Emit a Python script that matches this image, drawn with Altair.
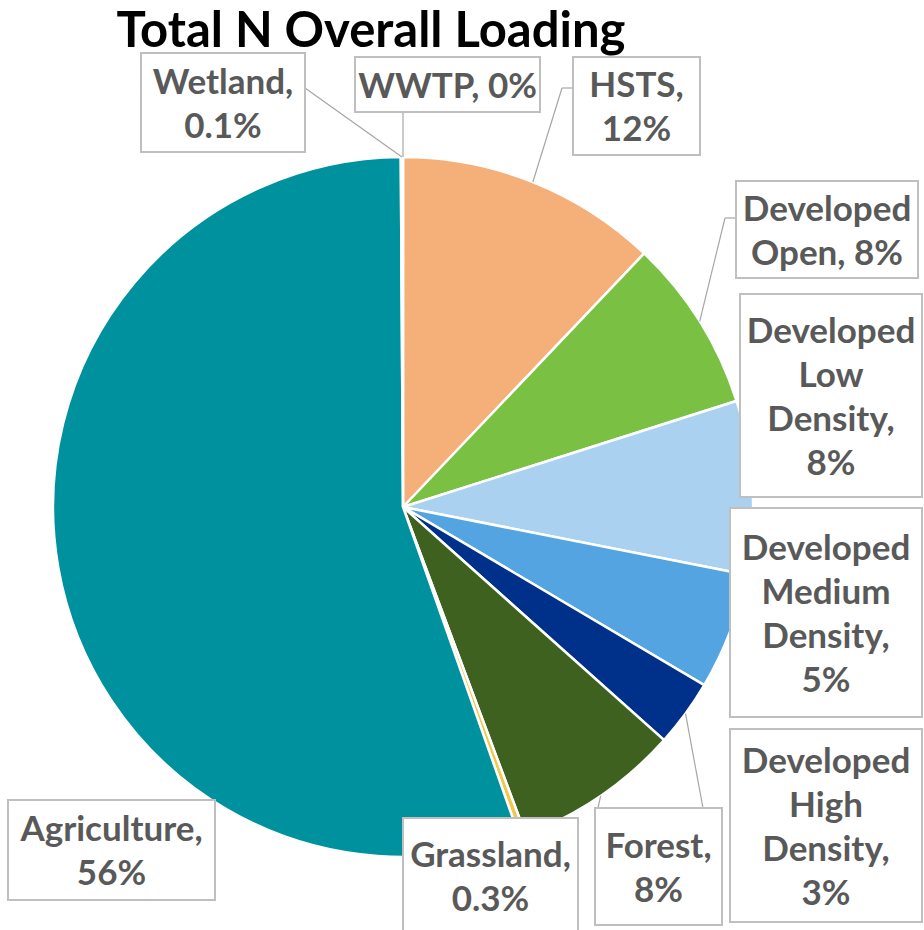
import math
import altair as alt
import pandas as pd

# ---------------- data ----------------
CATEGORIES = ["WWTP", "HSTS", "Developed Open", "Developed Low Density",
              "Developed Medium Density", "Developed High Density", "Forest",
              "Grassland", "Agriculture", "Wetland"]
VALUES = [0.0, 12.1, 8.0, 8.0, 5.4, 3.1, 7.7, 0.3, 55.3, 0.1]
LABELS = ["WWTP, 0%", "HSTS,\n12%", "Developed\nOpen, 8%", "Developed\nLow\nDensity,\n8%",
          "Developed\nMedium\nDensity,\n5%", "Developed\nHigh\nDensity,\n3%", "Forest,\n8%",
          "Grassland,\n0.3%", "Agriculture,\n56%", "Wetland,\n0.1%"]
COLORS = ["#A5A5A5", "#F5AF78", "#7AC143", "#AAD2F0", "#54A4E1", "#00318A",
          "#3E6120", "#F2C84B", "#00919E", "#4472C4"]
TITLE = "Total N Overall Loading"

# ---------------- layout ----------------
W, H = 924, 930
CX, CY, R = 403, 507, 350
LINE_H = 44
BOXES = {  # x0, y0, x1, y1
    "WWTP": (355, 57, 540, 112),
    "HSTS": (573, 57, 700, 155),
    "Developed Open": (736, 181, 918, 278),
    "Developed Low Density": (740, 294, 922, 497),
    "Developed Medium Density": (730, 508, 922, 717),
    "Developed High Density": (730, 729, 922, 922),
    "Forest": (595, 808, 722, 925),
    "Grassland": (403, 818, 578, 940),
    "Agriculture": (8, 800, 215, 900),
    "Wetland": (141, 53, 305, 152),
}
TEXT_CENTER_Y = {"Grassland": 876}
LEADER_PATHS = {  # points after the slice edge point
    "WWTP": [(403, 112)],
    "Wetland": [(305, 88)],
    "HSTS": [(562, 88), (573, 88)],
    "Developed Open": [(725, 218), (736, 218)],
    "Developed High Density": [(703, 808)],
    "Forest": [(598, 808)],
}

# ---------------- derived tables ----------------
total = sum(VALUES)
pie_df = pd.DataFrame({"category": CATEGORIES, "value": VALUES,
                       "idx": list(range(len(CATEGORIES)))})

rows = []
cum = 0.0
mids = {}
for c, v in zip(CATEGORIES, VALUES):
    a = (cum + v / 2) / total * 2 * math.pi
    mids[c] = (CX + R * math.sin(a), CY - R * math.cos(a))
    cum += v
for c, pts in LEADER_PATHS.items():
    p = mids[c]
    for q in pts:
        rows.append({"x": p[0], "y": p[1], "x2": q[0], "y2": q[1]})
        p = q
lead_df = pd.DataFrame(rows)

box_rows = []
for c, l in zip(CATEGORIES, LABELS):
    b = BOXES[c]
    n = l.count("\n") + 1
    cy = TEXT_CENTER_Y.get(c, (b[1] + b[3]) / 2)
    box_rows.append({"category": c, "x0": b[0], "y0": b[1], "x1": b[2], "y1": b[3],
                     "tx": (b[0] + b[2]) / 2, "ty": cy - (n - 1) * LINE_H / 2 + 2,
                     "label": l})
box_df = pd.DataFrame(box_rows)

xs = alt.Scale(domain=[0, W], range=[0, W])
ys = alt.Scale(domain=[0, H], range=[0, H])

pie = alt.Chart(pie_df).mark_arc(outerRadius=R, stroke="white", strokeWidth=2.5).encode(
    theta=alt.Theta("value:Q", stack=True),
    order=alt.Order("idx:Q"),
    color=alt.Color("category:N", scale=alt.Scale(domain=CATEGORIES, range=COLORS), legend=None),
    x=alt.value(CX), y=alt.value(CY),
)

leaders = alt.Chart(lead_df).mark_rule(color="#A6A6A6", strokeWidth=1.2).encode(
    x=alt.X("x:Q", scale=xs, axis=None), y=alt.Y("y:Q", scale=ys, axis=None),
    x2="x2:Q", y2="y2:Q",
)

boxes = alt.Chart(box_df).mark_rect(fill="white", stroke="#BFBFBF", strokeWidth=2).encode(
    x=alt.X("x0:Q", scale=xs, axis=None), x2="x1:Q",
    y=alt.Y("y0:Q", scale=ys, axis=None), y2="y1:Q",
)

texts = alt.Chart(box_df).mark_text(
    font="Lato", fontWeight="bold", fontSize=35, color="#595959",
    lineBreak="\n", lineHeight=LINE_H, align="center", baseline="middle",
).encode(
    x=alt.X("tx:Q", scale=xs, axis=None), y=alt.Y("ty:Q", scale=ys, axis=None),
    text="label:N",
)

title = alt.Chart(pd.DataFrame({"t": [TITLE], "x": [371], "y": [47]})).mark_text(
    font="Lato", fontWeight="bold", fontSize=49, color="#000000",
    align="center", baseline="alphabetic",
).encode(
    x=alt.X("x:Q", scale=xs, axis=None), y=alt.Y("y:Q", scale=ys, axis=None),
    text="t:N",
)

chart = alt.layer(pie, leaders, boxes, texts, title).properties(
    width=W, height=H, padding=0, autosize=alt.AutoSizeParams(type="none"),
    background="white",
).configure_view(stroke=None)

chart.save("out.html", embed_options={"renderer": "svg", "actions": False})
